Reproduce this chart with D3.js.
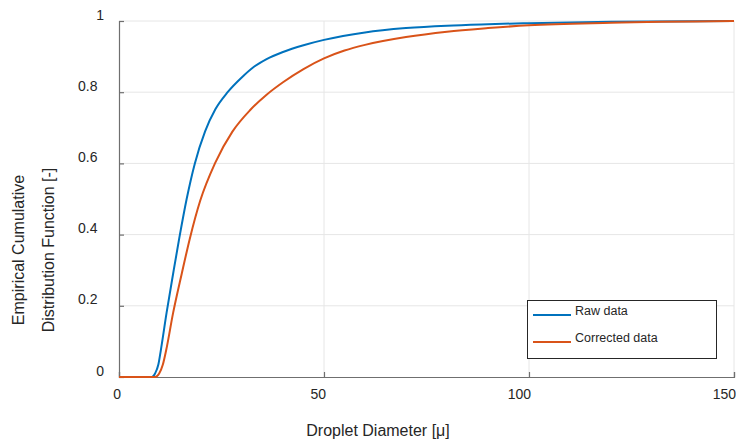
<!DOCTYPE html>
<html>
<head>
<meta charset="utf-8">
<script src="https://cdn.jsdelivr.net/npm/d3@7"></script>
<style>
  html, body { margin: 0; padding: 0; background: #fff; }
  svg { display: block; font-family: "Liberation Sans", Arial, sans-serif; }
</style>
</head>
<body>
<svg id="chart" width="736" height="442"></svg>
<script>
// ---- data ----
const rawDiameter = [0, 8.0, 8.8, 9.6, 10.2, 11.6, 13.2, 14.7, 16.5, 18.5, 21.0, 23.5, 26.5, 30, 33, 36, 40, 45, 50, 60, 70, 80, 90, 100, 120, 150];
const rawCdf      = [0, 0, 0.01, 0.035, 0.075, 0.18, 0.29, 0.39, 0.5, 0.6, 0.69, 0.752, 0.8, 0.842, 0.872, 0.893, 0.913, 0.932, 0.947, 0.968, 0.98, 0.987, 0.991, 0.994, 0.998, 1.0];
const corrDiameter = [0, 8.8, 9.8, 10.7, 11.5, 13.2, 15.3, 17.3, 19.8, 23.4, 27.7, 32, 36, 40, 45, 50, 55, 60, 70, 80, 90, 100, 120, 150];
const corrCdf      = [0, 0, 0.01, 0.035, 0.075, 0.18, 0.29, 0.39, 0.495, 0.6, 0.69, 0.75, 0.793, 0.828, 0.865, 0.895, 0.917, 0.933, 0.955, 0.97, 0.98, 0.988, 0.995, 1.0];
const xTicks = [0, 50, 100, 150];
const yTicks = [0, 0.2, 0.4, 0.6, 0.8, 1];
const seriesNames = ["Raw data", "Corrected data"];
const seriesColors = ["#0072BD", "#D95319"];
const xLabel = "Droplet Diameter [\u03bc]";
const yLabelLines = ["Empirical Cumulative", "Distribution Function [-]"];

// ---- layout ----
const svg = d3.select("#chart");
const x = d3.scaleLinear().domain([0, 150]).range([119, 734]);
const y = d3.scaleLinear().domain([0, 1]).range([377, 21]);

const axisColor = "#6f6f6f";
const textColor = "#262626";

// grid
const grid = svg.append("g");
grid.selectAll("line.gx").data(xTicks.filter(d => d > 0)).enter().append("line")
  .attr("x1", d => x(d)).attr("x2", d => x(d))
  .attr("y1", y(0)).attr("y2", y(1))
  .attr("stroke", "#e6e6e6").attr("stroke-width", 1);
grid.selectAll("line.gy").data(yTicks.filter(d => d > 0)).enter().append("line")
  .attr("x1", x(0)).attr("x2", x(150))
  .attr("y1", d => y(d)).attr("y2", d => y(d))
  .attr("stroke", "#e6e6e6").attr("stroke-width", 1);

// axes
const xAxis = d3.axisBottom(x).tickValues(xTicks).tickSize(-5).tickFormat("");
const yAxis = d3.axisLeft(y).tickValues(yTicks).tickSize(-5).tickFormat("");
const gx = svg.append("g").attr("transform", `translate(0,${y(0)})`).call(xAxis);
const gy = svg.append("g").attr("transform", `translate(${x(0)},0)`).call(yAxis);
[gx, gy].forEach(g => {
  g.selectAll("path.domain").attr("stroke", axisColor).attr("stroke-width", 1.2);
  g.selectAll(".tick line").attr("stroke", axisColor).attr("stroke-width", 1.2);
});

// tick labels
svg.append("g").selectAll("text").data(xTicks).enter().append("text")
  .attr("x", d => x(d) + 2).attr("y", 394)
  .attr("text-anchor", "end").attr("dominant-baseline", "central")
  .attr("font-size", 14).attr("fill", textColor)
  .text(d => d);
svg.append("g").selectAll("text").data(yTicks).enter().append("text")
  .attr("x", d => (d % 1 === 0 ? 104 : 97.5)).attr("y", d => y(d) - 6.5)
  .attr("text-anchor", "end").attr("dominant-baseline", "central")
  .attr("font-size", 14).attr("fill", textColor)
  .text(d => d);

// axis labels
svg.append("text").attr("x", 378).attr("y", 430)
  .attr("text-anchor", "middle").attr("dominant-baseline", "central")
  .attr("font-size", 16).attr("fill", textColor).text(xLabel);
yLabelLines.forEach((t, i) => {
  const cx = i === 0 ? 18 : 48;
  svg.append("text")
    .attr("transform", `translate(${cx},250) rotate(-90)`)
    .attr("text-anchor", "middle").attr("dominant-baseline", "central")
    .attr("font-size", 16).attr("fill", textColor).text(t);
});

// lines
const series = [
  { xs: rawDiameter, ys: rawCdf },
  { xs: corrDiameter, ys: corrCdf }
];
const line = d3.line().x(d => x(d[0])).y(d => y(d[1])).curve(d3.curveMonotoneX);
series.forEach((s, i) => {
  svg.append("path")
    .datum(s.xs.map((v, j) => [v, s.ys[j]]))
    .attr("d", line)
    .attr("fill", "none")
    .attr("stroke", seriesColors[i])
    .attr("stroke-width", 2)
    .attr("stroke-linejoin", "round");
});

// legend
const lg = svg.append("g");
lg.append("rect").attr("x", 527.5).attr("y", 300.5).attr("width", 189).attr("height", 58)
  .attr("fill", "#fff").attr("stroke", "#262626").attr("stroke-width", 1);
const rowY = [315, 342];
seriesNames.forEach((n, i) => {
  lg.append("line").attr("x1", 533).attr("x2", 571).attr("y1", rowY[i]).attr("y2", rowY[i])
    .attr("stroke", seriesColors[i]).attr("stroke-width", 2);
  lg.append("text").attr("x", 575).attr("y", rowY[i] - 4.5)
    .attr("dominant-baseline", "central").attr("font-size", 12.5).attr("fill", textColor)
    .text(n);
});
</script>
</body>
</html>
